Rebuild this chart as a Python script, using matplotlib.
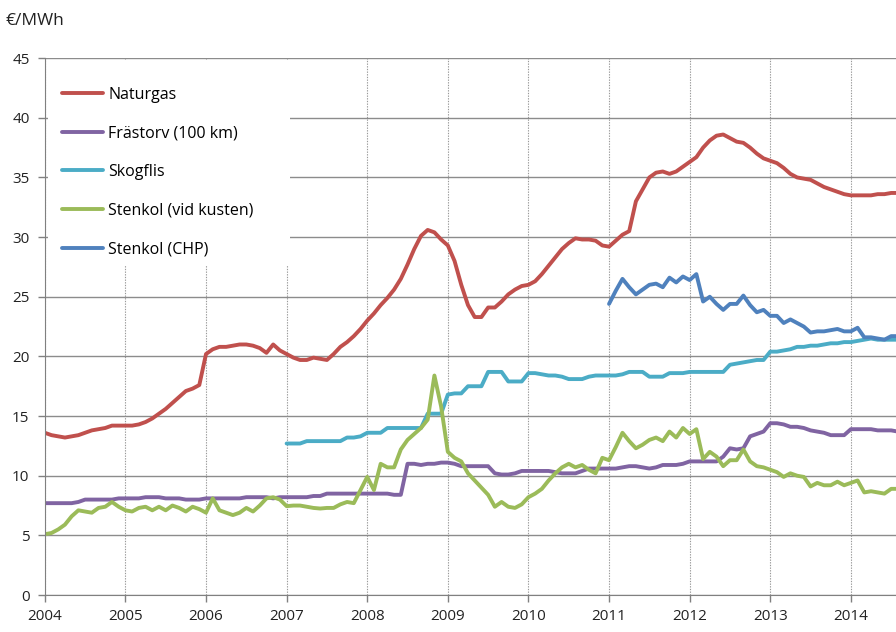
import numpy as np
import matplotlib
matplotlib.use("Agg")
import matplotlib.pyplot as plt
from matplotlib.patches import Rectangle

plt.rcParams["font.family"] = ["Open Sans", "DejaVu Sans"]

# monthly values, €/MWh
naturgas = [
    13.6, 13.4, 13.3, 13.2, 13.3, 13.4, 13.6, 13.8, 13.9, 14.0, 14.2, 14.2,
    14.2, 14.2, 14.3, 14.5, 14.8, 15.2, 15.6, 16.1, 16.6, 17.1, 17.3, 17.6,
    20.2, 20.6, 20.8, 20.8, 20.9, 21.0, 21.0, 20.9, 20.7, 20.3, 21.0, 20.5,
    20.2, 19.9, 19.7, 19.7, 19.9, 19.8, 19.7, 20.2, 20.8, 21.2, 21.7, 22.3,
    23.0, 23.6, 24.3, 24.9, 25.6, 26.5, 27.7, 29.0, 30.1, 30.6, 30.4, 29.8,
    29.3, 28.0, 26.0, 24.3, 23.3, 23.3, 24.1, 24.1, 24.6, 25.2, 25.6, 25.9,
    26.0, 26.3, 26.9, 27.6, 28.3, 29.0, 29.5, 29.9, 29.8, 29.8, 29.7, 29.3,
    29.2, 29.7, 30.2, 30.5, 33.0, 34.0, 35.0, 35.4, 35.5, 35.3, 35.5, 35.9,
    36.3, 36.7, 37.5, 38.1, 38.5, 38.6, 38.3, 38.0, 37.9, 37.5, 37.0, 36.6,
    36.4, 36.2, 35.8, 35.3, 35.0, 34.9, 34.8, 34.5, 34.2, 34.0, 33.8, 33.6,
    33.5, 33.5, 33.5, 33.5, 33.6, 33.6, 33.7, 33.7,
]
frastorv = [
    7.7, 7.7, 7.7, 7.7, 7.7, 7.8, 8.0, 8.0, 8.0, 8.0, 8.0, 8.1,
    8.1, 8.1, 8.1, 8.2, 8.2, 8.2, 8.1, 8.1, 8.1, 8.0, 8.0, 8.0,
    8.1, 8.1, 8.1, 8.1, 8.1, 8.1, 8.2, 8.2, 8.2, 8.2, 8.1, 8.2,
    8.2, 8.2, 8.2, 8.2, 8.3, 8.3, 8.5, 8.5, 8.5, 8.5, 8.5, 8.5,
    8.5, 8.5, 8.5, 8.5, 8.4, 8.4, 11.0, 11.0, 10.9, 11.0, 11.0, 11.1,
    11.1, 11.0, 10.8, 10.8, 10.8, 10.8, 10.8, 10.2, 10.1, 10.1, 10.2, 10.4,
    10.4, 10.4, 10.4, 10.4, 10.3, 10.2, 10.2, 10.2, 10.4, 10.6, 10.6, 10.6,
    10.6, 10.6, 10.7, 10.8, 10.8, 10.7, 10.6, 10.7, 10.9, 10.9, 10.9, 11.0,
    11.2, 11.2, 11.2, 11.2, 11.2, 11.6, 12.3, 12.2, 12.3, 13.3, 13.5, 13.7,
    14.4, 14.4, 14.3, 14.1, 14.1, 14.0, 13.8, 13.7, 13.6, 13.4, 13.4, 13.4,
    13.9, 13.9, 13.9, 13.9, 13.8, 13.8, 13.8, 13.7,
]
# from Jan 2007
skogflis = [
    12.7, 12.7, 12.7, 12.9, 12.9, 12.9, 12.9, 12.9, 12.9, 13.2, 13.2, 13.3,
    13.6, 13.6, 13.6, 14.0, 14.0, 14.0, 14.0, 14.0, 14.0, 15.2, 15.2, 15.2,
    16.8, 16.9, 16.9, 17.5, 17.5, 17.5, 18.7, 18.7, 18.7, 17.9, 17.9, 17.9,
    18.6, 18.6, 18.5, 18.4, 18.4, 18.3, 18.1, 18.1, 18.1, 18.3, 18.4, 18.4,
    18.4, 18.4, 18.5, 18.7, 18.7, 18.7, 18.3, 18.3, 18.3, 18.6, 18.6, 18.6,
    18.7, 18.7, 18.7, 18.7, 18.7, 18.7, 19.3, 19.4, 19.5, 19.6, 19.7, 19.7,
    20.4, 20.4, 20.5, 20.6, 20.8, 20.8, 20.9, 20.9, 21.0, 21.1, 21.1, 21.2,
    21.2, 21.3, 21.4, 21.5, 21.4, 21.4, 21.4, 21.4,
]
stenkol_kust = [
    5.1, 5.2, 5.5, 5.9, 6.6, 7.1, 7.0, 6.9, 7.3, 7.4, 7.8, 7.4,
    7.1, 7.0, 7.3, 7.4, 7.1, 7.4, 7.1, 7.5, 7.3, 7.0, 7.4, 7.2,
    6.9, 8.1, 7.1, 6.9, 6.7, 6.9, 7.3, 7.0, 7.5, 8.1, 8.2, 8.0,
    7.45, 7.5, 7.5, 7.4, 7.3, 7.25, 7.3, 7.3, 7.6, 7.8, 7.7, 8.8,
    9.9, 8.8, 11.0, 10.7, 10.7, 12.2, 13.0, 13.5, 14.0, 14.7, 18.4, 15.8,
    12.0, 11.5, 11.2, 10.2, 9.6, 9.0, 8.4, 7.4, 7.8, 7.4, 7.3, 7.6,
    8.2, 8.5, 8.9, 9.6, 10.2, 10.7, 11.0, 10.7, 10.9, 10.5, 10.2, 11.5,
    11.3, 12.4, 13.6, 12.9, 12.3, 12.6, 13.0, 13.2, 12.9, 13.7, 13.2, 14.0,
    13.5, 13.9, 11.4, 12.0, 11.6, 10.8, 11.3, 11.3, 12.2, 11.2, 10.8, 10.7,
    10.5, 10.3, 9.9, 10.2, 10.0, 9.9, 9.1, 9.4, 9.2, 9.2, 9.5, 9.2,
    9.4, 9.6, 8.6, 8.7, 8.6, 8.5, 8.9, 8.9,
]
# from Jan 2011
stenkol_chp = [
    24.4, 25.5, 26.5, 25.8, 25.2, 25.6, 26.0, 26.1, 25.8, 26.6, 26.2, 26.7,
    26.4, 26.9, 24.6, 25.0, 24.4, 23.9, 24.4, 24.4, 25.1, 24.3, 23.7, 23.9,
    23.4, 23.4, 22.8, 23.1, 22.8, 22.5, 22.0, 22.1, 22.1, 22.2, 22.3, 22.1,
    22.1, 22.4, 21.6, 21.6, 21.5, 21.4, 21.7, 21.7,
]

series = [
    ("Naturgas", naturgas, 2004, "#C0504D"),
    ("Frästorv (100 km)", frastorv, 2004, "#8064A2"),
    ("Skogflis", skogflis, 2007, "#4BACC6"),
    ("Stenkol (vid kusten)", stenkol_kust, 2004, "#9BBB59"),
    ("Stenkol (CHP)", stenkol_chp, 2011, "#4F81BD"),
]
years = list(range(2004, 2015))

fig = plt.figure(figsize=(8.96, 6.32), dpi=100)
ax = fig.add_axes([0.050, 0.0585, 0.950, 0.8495])

for label, vals, start, color in series:
    t = start + np.arange(len(vals)) / 12
    ax.plot(t, vals, color=color, lw=2.8, label=label, solid_capstyle="round")

ax.set_xlim(2004, 2014.56)
ax.set_ylim(0, 45)
ax.set_xticks(years)
ax.set_yticks(range(0, 46, 5))
ax.tick_params(axis="both", labelsize=11, colors="#808080", labelcolor="#222222",
               length=5, width=1)
ax.tick_params(axis="x", pad=5)
ax.tick_params(axis="y", pad=6)
ax.grid(axis="y", color="#8c8c8c", lw=1.0, ls="-")
ax.grid(axis="x", color="#999999", lw=0.8, ls=(0, (1.2, 1.2)))
ax.set_axisbelow(True)
for s in ("top", "right"):
    ax.spines[s].set_visible(False)
for s in ("left", "bottom"):
    ax.spines[s].set_color("#808080")

# white legend area hiding the grid (Excel style)
ax.add_patch(Rectangle((0.0035, 0.614), 0.285, 0.382, transform=ax.transAxes,
                       facecolor="white", edgecolor="none", zorder=1))

leg = ax.legend(loc="upper left", bbox_to_anchor=(0.020, 0.947), fontsize=11.5,
                frameon=False, handlelength=2.6, handletextpad=0.3,
                labelspacing=1.42, borderpad=0, borderaxespad=0)
leg.set_zorder(5)

fig.text(0.006, 0.966, "€/MWh", fontsize=12.5, color="#222222", va="center")

fig.savefig("out.png", dpi=100)
